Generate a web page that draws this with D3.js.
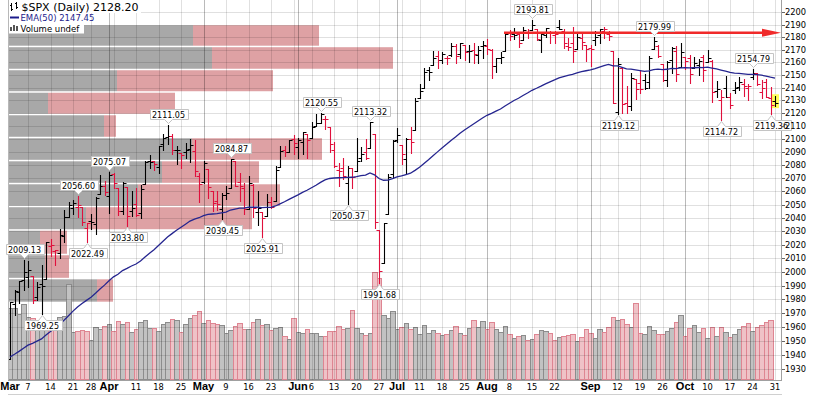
<!DOCTYPE html>
<html>
<head>
<meta charset="utf-8">
<script src="https://cdn.jsdelivr.net/npm/d3@7.9.0/dist/d3.min.js"></script>
<style>
  html, body { margin: 0; padding: 0; background: #fff; }
  svg { display: block; }
  text { font-family: "DejaVu Sans", sans-serif; }
</style>
</head>
<body>
<svg id="chart" width="813" height="395"></svg>
<script>
// trading days, Mar 1 .. Oct 31 2016
const days = [
  '03-01','03-02','03-03','03-04','03-07','03-08','03-09','03-10','03-11','03-14','03-15','03-16','03-17','03-18','03-21','03-22','03-23','03-24','03-28','03-29','03-30','03-31',
  '04-01','04-04','04-05','04-06','04-07','04-08','04-11','04-12','04-13','04-14','04-15','04-18','04-19','04-20','04-21','04-22','04-25','04-26','04-27','04-28','04-29',
  '05-02','05-03','05-04','05-05','05-06','05-09','05-10','05-11','05-12','05-13','05-16','05-17','05-18','05-19','05-20','05-23','05-24','05-25','05-26','05-27','05-31',
  '06-01','06-02','06-03','06-06','06-07','06-08','06-09','06-10','06-13','06-14','06-15','06-16','06-17','06-20','06-21','06-22','06-23','06-24','06-27','06-28','06-29','06-30',
  '07-01','07-05','07-06','07-07','07-08','07-11','07-12','07-13','07-14','07-15','07-18','07-19','07-20','07-21','07-22','07-25','07-26','07-27','07-28','07-29',
  '08-01','08-02','08-03','08-04','08-05','08-08','08-09','08-10','08-11','08-12','08-15','08-16','08-17','08-18','08-19','08-22','08-23','08-24','08-25','08-26','08-29','08-30','08-31',
  '09-01','09-02','09-06','09-07','09-08','09-09','09-12','09-13','09-14','09-15','09-16','09-19','09-20','09-21','09-22','09-23','09-26','09-27','09-28','09-29','09-30',
  '10-03','10-04','10-05','10-06','10-07','10-10','10-11','10-12','10-13','10-14','10-17','10-18','10-19','10-20','10-21','10-24','10-25','10-26','10-27','10-28','10-31'
];

const opens = [
  1937.09,1976.60,1985.60,1994.01,1996.11,1996.88,1981.44,1990.97,1994.71,2019.27,2015.27,2014.24,2026.90,2041.16,2047.88,2048.64,2048.55,2032.48,2037.89,2035.75,2058.27,2063.77,
  2056.62,2073.19,2062.50,2045.56,2063.01,2045.54,2050.23,2043.72,2065.92,2082.89,2083.10,2078.83,2096.05,2101.52,2102.09,2091.49,2089.37,2089.84,2092.33,2090.93,2071.82,
  2067.17,2077.18,2060.30,2052.95,2046.61,2057.55,2062.63,2083.29,2067.17,2062.50,2046.53,2065.04,2044.38,2044.21,2041.88,2052.23,2052.65,2078.93,2091.44,2090.06,2100.13,
  2093.94,2097.71,2104.07,2100.83,2110.18,2112.71,2115.65,2109.57,2091.75,2076.65,2077.60,2066.36,2078.20,2075.58,2085.19,2089.75,2092.80,2103.81,2031.45,2006.67,2042.69,2073.17,
  2099.34,2095.05,2084.43,2100.42,2106.97,2131.72,2139.50,2153.81,2157.88,2165.13,2162.04,2163.79,2166.10,2172.91,2166.47,2173.71,2168.97,2169.81,2166.05,2172.84,
  2173.15,2169.94,2156.81,2163.51,2168.79,2183.76,2182.24,2182.81,2177.97,2183.74,2186.08,2186.24,2177.84,2181.90,2184.24,2181.58,2187.81,2185.09,2173.29,2175.10,2170.19,2179.45,2173.56,
  2171.33,2177.49,2181.61,2185.17,2182.76,2169.08,2120.86,2155.81,2127.86,2125.36,2146.48,2143.99,2145.94,2144.58,2170.94,2173.29,2158.54,2146.04,2161.85,2168.90,2156.51,
  2164.33,2163.37,2155.15,2158.22,2164.19,2160.39,2161.35,2137.67,2130.26,2139.68,2132.95,2138.31,2140.81,2142.51,2139.43,2148.50,2151.16,2136.97,2144.06,2132.23,2129.78
];

const highs = [
  1978.35,1986.51,1993.69,2009.13,2008.16,1996.88,1992.69,2005.08,2022.37,2024.57,2015.94,2032.02,2046.24,2052.36,2053.91,2056.60,2048.55,2036.04,2042.67,2055.91,2072.21,2067.92,
  2075.07,2074.02,2062.50,2067.33,2063.01,2060.63,2062.93,2065.05,2083.18,2087.84,2083.22,2094.66,2104.05,2111.05,2103.78,2094.32,2089.37,2096.87,2099.89,2099.30,2073.85,
  2083.42,2077.18,2060.30,2060.23,2058.79,2064.15,2084.87,2083.29,2073.99,2066.79,2071.88,2065.69,2060.61,2044.21,2058.35,2055.58,2079.67,2094.73,2094.30,2099.06,2103.48,
  2100.97,2105.26,2104.07,2113.36,2119.22,2120.55,2117.64,2109.57,2098.12,2081.30,2085.65,2079.62,2078.20,2100.66,2093.66,2099.71,2113.32,2103.81,2031.45,2036.09,2073.13,2098.94,
  2108.71,2095.05,2100.72,2109.08,2131.71,2143.16,2155.40,2156.45,2169.05,2169.05,2168.35,2164.63,2175.63,2174.56,2175.11,2173.71,2173.54,2174.98,2172.85,2177.09,
  2178.29,2170.20,2163.79,2168.19,2182.87,2185.44,2187.66,2183.41,2188.45,2186.28,2193.81,2186.24,2183.08,2187.03,2185.00,2184.93,2193.42,2186.66,2179.00,2187.94,2183.48,2182.27,2173.79,
  2173.56,2184.87,2186.57,2187.87,2184.94,2169.08,2163.30,2155.81,2141.33,2151.31,2146.48,2153.61,2150.80,2165.11,2179.99,2173.75,2158.54,2161.13,2172.40,2172.67,2175.30,
  2164.33,2165.46,2163.95,2162.93,2165.86,2169.60,2161.56,2145.36,2138.19,2149.19,2135.61,2144.38,2148.44,2147.18,2142.63,2154.79,2151.44,2145.73,2147.13,2140.72,2133.25
];

const lows = [
  1937.09,1968.80,1977.37,1986.77,1989.19,1977.43,1979.84,1969.25,1994.71,2012.05,2005.23,2010.04,2022.16,2041.16,2043.14,2040.57,2034.86,2022.49,2031.96,2028.31,2058.27,2057.46,
  2043.98,2062.57,2042.56,2043.09,2033.80,2041.69,2041.88,2039.74,2065.92,2078.13,2076.31,2073.65,2091.68,2096.32,2088.52,2081.20,2077.52,2085.80,2082.31,2071.62,2052.28,
  2066.11,2054.89,2045.55,2045.77,2039.45,2054.31,2062.63,2064.46,2053.13,2043.13,2046.53,2040.82,2034.49,2025.91,2041.88,2047.26,2052.65,2078.93,2087.08,2090.06,2088.66,
  2085.10,2088.59,2085.36,2100.83,2110.18,2112.71,2107.73,2089.96,2078.46,2064.10,2069.80,2050.37,2062.84,2075.58,2083.02,2084.36,2092.80,2032.57,1991.68,2006.67,2042.69,2070.00,
  2097.90,2080.86,2074.02,2089.39,2106.97,2131.72,2139.50,2146.21,2157.88,2155.79,2159.07,2159.01,2164.89,2159.75,2163.24,2161.95,2160.18,2159.07,2159.74,2163.49,
  2166.21,2147.58,2152.70,2159.07,2168.79,2177.85,2178.61,2172.00,2177.97,2179.42,2186.08,2178.14,2168.50,2180.46,2175.13,2175.30,2186.80,2171.25,2169.74,2160.39,2170.19,2170.41,2161.35,
  2157.09,2173.59,2175.10,2179.07,2177.49,2127.81,2119.12,2119.86,2119.90,2122.36,2131.20,2135.91,2139.17,2139.57,2170.94,2163.97,2145.04,2141.55,2151.79,2145.20,2156.51,
  2154.77,2144.01,2155.15,2150.28,2144.85,2160.39,2128.84,2132.77,2114.72,2132.98,2124.43,2135.49,2138.15,2133.44,2130.09,2146.91,2141.93,2131.59,2132.52,2119.36,2125.53
];

const closes = [
  1978.35,1986.45,1993.40,1999.99,2001.76,1979.26,1989.26,1989.57,2022.19,2019.64,2015.93,2027.22,2040.59,2049.58,2051.60,2049.80,2036.71,2035.94,2037.05,2055.01,2063.95,2059.74,
  2072.78,2066.13,2045.17,2066.66,2041.91,2047.60,2041.99,2061.72,2082.42,2082.78,2080.73,2094.34,2100.80,2102.40,2091.48,2091.58,2087.79,2091.70,2095.15,2075.81,2065.30,
  2081.43,2063.37,2051.12,2050.63,2057.14,2058.69,2084.39,2064.46,2064.11,2046.61,2066.66,2047.21,2047.63,2040.04,2052.32,2048.04,2076.06,2090.54,2090.10,2099.06,2096.95,
  2099.33,2105.26,2099.13,2109.41,2112.13,2119.12,2115.48,2096.07,2079.06,2075.32,2071.50,2077.99,2071.22,2083.25,2088.90,2085.45,2113.32,2037.41,2000.54,2036.09,2070.77,2098.86,
  2102.95,2088.55,2099.73,2097.90,2129.90,2137.16,2152.14,2152.43,2163.75,2161.74,2166.89,2163.78,2173.02,2165.17,2175.03,2168.48,2169.18,2166.58,2170.06,2173.60,
  2170.84,2157.03,2163.79,2164.25,2182.87,2180.89,2181.74,2175.49,2185.79,2184.05,2190.15,2178.15,2182.22,2187.02,2183.87,2182.64,2186.90,2175.44,2172.47,2169.04,2180.38,2176.12,2170.95,
  2170.86,2179.98,2186.48,2186.16,2181.30,2127.81,2159.04,2127.02,2125.77,2147.26,2139.16,2139.12,2139.76,2163.12,2177.18,2164.69,2146.10,2159.93,2171.37,2151.13,2168.27,
  2161.20,2150.49,2159.73,2160.77,2153.74,2163.66,2136.73,2139.18,2132.55,2132.98,2126.50,2139.60,2144.29,2141.34,2141.16,2151.33,2143.16,2139.43,2133.04,2126.41,2128.20
];

// volume, billions of shares (last day undefined)
const volumes = [
  4.97,4.97,4.55,5.25,4.34,4.27,4.13,4.13,3.99,3.99,3.99,4.34,4.41,6.65,3.29,3.36,3.43,3.36,2.73,3.64,3.50,3.71,
  3.85,3.36,4.06,3.85,3.99,3.29,3.50,3.99,4.13,3.57,3.57,3.36,3.85,3.99,4.20,4.13,3.29,3.85,4.27,4.48,4.76,
  3.92,4.13,3.92,3.85,3.78,3.22,3.43,3.71,3.92,3.50,3.50,3.99,4.20,3.78,3.85,3.43,3.57,3.64,3.01,2.80,4.27,
  3.29,3.22,3.50,3.22,3.22,3.01,3.01,3.36,3.36,3.71,3.50,3.57,4.83,3.57,3.22,3.08,3.22,7.49,7.07,4.48,4.27,4.76,
  3.50,3.64,3.92,3.50,3.64,3.15,3.78,3.22,3.43,3.22,3.08,3.15,3.43,3.71,3.22,3.08,3.57,4.13,3.64,4.06,
  3.50,3.99,3.50,3.29,3.71,3.15,2.87,3.01,3.08,2.73,2.80,3.15,3.43,3.36,3.22,2.73,2.94,3.01,3.08,3.15,2.66,2.94,3.50,
  3.22,2.87,3.50,3.29,3.64,4.34,4.13,4.20,3.85,3.64,5.32,3.22,3.15,3.71,3.43,3.15,3.15,3.36,3.57,3.99,4.48,
  3.01,3.57,3.78,3.29,3.57,2.87,3.64,3.01,3.64,3.29,2.94,3.15,3.50,3.71,3.92,3.36,3.64,3.78,3.99,4.13,null
];

const prevClose = 1932.23;   // Feb 29 close
const emaStart = 1937;       // EMA(50) on Feb 29
const lastPrice = 2128.20;
const lastEma = 2147.45;

// volume by price: zone bounds (low -> high), up / down volume per zone
const vbpBounds = [1977.8, 1995.2, 2012.9, 2031.1, 2048.7, 2066.0, 2083.5, 2101.2, 2119.0, 2136.6, 2154.3, 2172.6, 2190.2];
const vbpUp   = [17.8, 7.4, 6.4, 15.6, 26.0, 30.8, 36.8, 19.2, 8.0, 21.8, 40.8, 37.0];
const vbpDown = [ 3.2, 4.8, 5.4, 33.2, 28.4, 19.4, 26.0,  2.4, 25.4, 31.2, 36.2, 25.2];

const highMarks = ['03-04','03-22','04-01','04-20','05-10','06-08','06-23','08-15','09-22','10-24'];
const lowMarks  = ['03-10','03-24','04-07','05-06','05-19','06-16','06-27','09-12','10-13','10-28'];

const trendLevel = 2183.6;
const trendStart = '08-05';

const monthTicks = ['03-01','04-01','05-02','06-01','07-01','08-01','09-01','10-03'];
const monthNames = ['Mar','Apr','May','Jun','Jul','Aug','Sep','Oct'];
const weekTicks = ['03-07','03-14','03-21','03-28','04-11','04-18','04-25','05-09','05-16','05-23','06-06','06-13','06-20','06-27',
  '07-11','07-18','07-25','08-08','08-15','08-22','09-12','09-19','09-26','10-10','10-17','10-24','10-31'];
const weekLabels = ['7','14','21','28','11','18','25','9','16','23','6','13','20','27','11','18','25','8','15','22','12','19','26','10','17','24','31'];
const priceTicks = d3.range(1930, 2201, 10);

// ---------------------------------------------------------------
const left = 8, right = 781, bottom = 380;
const svg = d3.select('#chart');

const x = d3.scalePoint().domain(days).range([10, 775]);
const px = d => Math.round(x(d)) + 0.5;
const y = d3.scaleLog().domain([1930, 2200]).range([369.1, 12.3]);
const yVol = d3.scaleLinear().domain([0, 7]).range([379, 279]);
const vbpX = d3.scaleLinear().domain([0, 77]).range([0, 385]);

const bars = days.map((d, i) => ({
  day: d, o: opens[i], h: highs[i], l: lows[i], c: closes[i], v: volumes[i],
  up: closes[i] >= (i ? closes[i - 1] : prevClose),
}));

let ema = emaStart;
const k = 2 / 51;
bars.forEach(b => { ema += k * (b.c - ema); b.ema = ema; });

svg.append('rect').attr('width', 813).attr('height', 395).attr('fill', '#fff');

svg.append('clipPath').attr('id', 'plot-clip')
  .append('rect').attr('x', left).attr('y', 0).attr('width', right - left).attr('height', bottom);

const plot = svg.append('g').attr('clip-path', 'url(#plot-clip)');

// volume by price
const zones = vbpUp.map((u, i) => ({ up: u, down: vbpDown[i], lo: vbpBounds[i], hi: vbpBounds[i + 1] }));
const vbp = plot.append('g');
vbp.selectAll('rect.vup').data(zones).join('rect')
  .attr('x', left)
  .attr('y', d => y(d.hi) + 0.75)
  .attr('width', d => vbpX(d.up))
  .attr('height', d => y(d.lo) - y(d.hi) - 1.5)
  .attr('fill', '#a8a8a8');
vbp.selectAll('rect.vdn').data(zones).join('rect')
  .attr('x', d => left + vbpX(d.up))
  .attr('y', d => y(d.hi) + 0.75)
  .attr('width', d => vbpX(d.down))
  .attr('height', d => y(d.lo) - y(d.hi) - 1.5)
  .attr('fill', '#dea1a4');

// volume bars
plot.append('g').selectAll('rect')
  .data(bars.filter(b => b.v != null))
  .join('rect')
  .attr('x', d => Math.round(x(d.day) - 2.25) + 0.5)
  .attr('y', d => Math.round(yVol(d.v)) + 0.5)
  .attr('width', d => Math.round(x(d.day) + 2.25) - Math.round(x(d.day) - 2.25))
  .attr('height', d => 379 - Math.round(yVol(d.v)))
  .attr('fill', d => d.up ? '#c2c2c2' : '#efc2c7')
  .attr('stroke', d => d.up ? '#8c8c8c' : '#de8592')
  .attr('stroke-width', 1);

// grid
const grid = plot.append('g');
grid.selectAll('line.h').data(priceTicks).join('line')
  .attr('x1', left).attr('x2', right)
  .attr('y1', d => Math.round(y(d)) + 0.5).attr('y2', d => Math.round(y(d)) + 0.5)
  .attr('stroke', 'rgba(0,0,0,0.12)');

const parse = d3.timeParse('%Y-%m-%d');
const gridDays = days.filter((d, i) => {
  if (i === 0) return false;
  const a = parse('2016-' + days[i - 1]), b = parse('2016-' + d);
  return +d3.timeMonday.floor(a) !== +d3.timeMonday.floor(b) || a.getMonth() !== b.getMonth();
});
grid.selectAll('line.v').data(gridDays).join('line')
  .attr('x1', d => px(d)).attr('x2', d => px(d))
  .attr('y1', 0).attr('y2', bottom)
  .attr('stroke', d => monthTicks.includes(d) ? 'rgba(0,0,0,0.27)' : 'rgba(0,0,0,0.12)');

// highlight of the live bar
const last = bars[bars.length - 1];
plot.append('rect')
  .attr('x', px(last.day) - 3.5).attr('width', 7)
  .attr('y', y(last.h) - 2).attr('height', y(last.l) - y(last.h) + 4)
  .attr('fill', '#ffff5a');

// OHLC bars
plot.append('g').selectAll('path')
  .data(bars)
  .join('path')
  .attr('d', d => {
    const cx = px(d.day);
    const yo = Math.round(y(d.o)) + 0.5, yc = Math.round(y(d.c)) + 0.5;
    return `M${cx},${Math.round(y(d.h))}V${Math.round(y(d.l)) + 1}` +
      `M${cx - 3},${yo}H${cx}M${cx},${yc}H${cx + 3}`;
  })
  .attr('fill', 'none')
  .attr('stroke', d => d.up ? '#000' : '#e0103c')
  .attr('stroke-width', 1.1);

// EMA(50)
plot.append('path')
  .datum(bars)
  .attr('d', d3.line().x(d => x(d.day)).y(d => y(d.ema)))
  .attr('fill', 'none')
  .attr('stroke', '#25258f')
  .attr('stroke-width', 1.3);

// horizontal trend arrow
const ty = y(trendLevel);
plot.append('line')
  .attr('x1', x(trendStart) - 1).attr('x2', 766)
  .attr('y1', ty).attr('y2', ty)
  .attr('stroke', '#f02a2a').attr('stroke-width', 2.6);
plot.append('path')
  .attr('d', `M762,${ty - 4}L${right},${ty}L762,${ty + 4}Z`)
  .attr('fill', '#f02a2a');

// frame
svg.append('line').attr('x1', left + 0.5).attr('x2', left + 0.5).attr('y1', 0).attr('y2', bottom).attr('stroke', '#b8b8b8');
svg.append('line').attr('x1', right + 0.5).attr('x2', right + 0.5).attr('y1', 0).attr('y2', bottom).attr('stroke', '#a0a0a0');
svg.append('line').attr('x1', left).attr('x2', right + 1).attr('y1', bottom + 0.5).attr('y2', bottom + 0.5).attr('stroke', '#a0a0a0');
svg.append('line').attr('x1', left).attr('x2', right + 1).attr('y1', 394.5).attr('y2', 394.5).attr('stroke', '#d0d0d0');

// callout labels
const fmt = d3.format('.2f');
const callouts = svg.append('g');
function addCallout(day, value, isHigh) {
  const cx = px(day);
  const py = y(value);
  const g = callouts.append('g');
  const t = g.append('text')
    .attr('x', cx).attr('text-anchor', 'middle')
    .attr('font-size', 8).attr('fill', '#000')
    .text(fmt(value));
  const w = Math.ceil(t.node().getComputedTextLength()) + 4;
  const bx0 = Math.round(cx - w / 2) + 0.5, bx1 = bx0 + w;
  let path, base;
  if (isHigh) {
    const tip = Math.round(py) - 1.5;
    const by1 = Math.round(py) - 5.5, by0 = by1 - 10;
    path = `M${bx0},${by0}H${bx1}V${by1}H${cx + 4}L${cx},${tip}L${cx - 4},${by1}H${bx0}Z`;
    base = by1 - 2;
  } else {
    const tip = Math.round(py) + 1.5;
    const by0 = Math.round(py) + 6.5, by1 = by0 + 10;
    path = `M${bx0},${by1}H${bx1}V${by0}H${cx + 4}L${cx},${tip}L${cx - 4},${by0}H${bx0}Z`;
    base = by1 - 2;
  }
  g.insert('path', 'text').attr('d', path).attr('fill', '#fff').attr('stroke', '#c4c4c4');
  t.attr('y', base);
}
highMarks.forEach(d => addCallout(d, highs[days.indexOf(d)], true));
lowMarks.forEach(d => addCallout(d, lows[days.indexOf(d)], false));

// y axis (right)
const yAxis = svg.append('g');
yAxis.selectAll('line').data(priceTicks).join('line')
  .attr('x1', right + 1).attr('x2', right + 4)
  .attr('y1', d => Math.round(y(d)) + 0.5).attr('y2', d => Math.round(y(d)) + 0.5)
  .attr('stroke', '#666');
yAxis.selectAll('text').data(priceTicks).join('text')
  .attr('x', 785).attr('y', d => y(d) + 3)
  .attr('font-size', 8.3).attr('fill', '#000')
  .text(d => d);

// x axis labels
const xAxis = svg.append('g');
xAxis.selectAll('text.m').data(monthTicks).join('text')
  .attr('x', d => x(d)).attr('y', 390)
  .attr('text-anchor', 'middle')
  .style('font-family', '"Liberation Sans", Arial, sans-serif')
  .attr('font-weight', 'bold').attr('font-size', 11)
  .text((d, i) => monthNames[i]);
xAxis.selectAll('text.w').data(weekTicks).join('text')
  .attr('x', d => x(d)).attr('y', 390)
  .attr('text-anchor', 'middle')
  .attr('font-size', 8.3)
  .text((d, i) => weekLabels[i]);

// legend
const legend = svg.append('g');
legend.append('rect').attr('x', left + 1).attr('y', 0).attr('width', 132).attr('height', 13).attr('fill', '#fff');
legend.append('rect').attr('x', left + 1).attr('y', 13).attr('width', 75).attr('height', 20.5).attr('fill', '#fff');
legend.append('path')
  .attr('d', 'M11.5,3V11M10,5.5H11.5M11.5,9.5H13M16.5,2V9M15,3.5H16.5M16.5,7.5H18')
  .attr('stroke', '#000').attr('fill', 'none');
legend.append('text').attr('x', 21.5).attr('y', 10.5).attr('font-size', 11)
  .text(`$SPX (Daily) ${fmt(lastPrice)}`);
legend.append('line').attr('x1', 10).attr('x2', 19).attr('y1', 17.5).attr('y2', 17.5)
  .attr('stroke', '#1c1c8c').attr('stroke-width', 2);
legend.append('text').attr('x', 20.5).attr('y', 21).attr('font-size', 8.5).attr('fill', '#1c1c8c')
  .text(`EMA(50) ${fmt(lastEma)}`);
legend.selectAll('rect.ic').data([4, 6, 5]).join('rect')
  .attr('x', (d, i) => 10 + i * 3).attr('y', d => 31 - d)
  .attr('width', 2).attr('height', d => d).attr('fill', '#555');
legend.append('text').attr('x', 20.5).attr('y', 31.5).attr('font-size', 8.5).attr('fill', '#000')
  .text('Volume undef');
</script>
</body>
</html>
